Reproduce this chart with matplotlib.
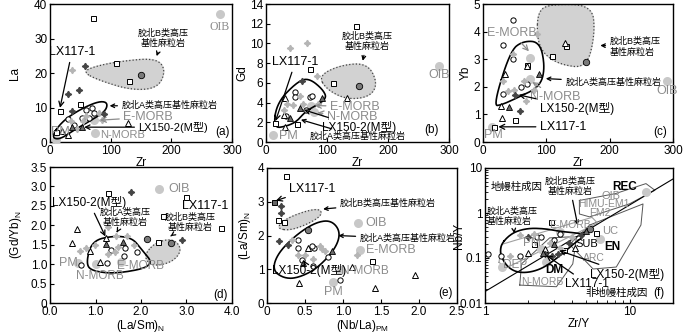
import numpy as np
import matplotlib
matplotlib.use('Agg')
import matplotlib.pyplot as plt

# fontes: latim + CJK
plt.rcParams['font.family'] = ['Liberation Sans', 'Noto Sans CJK SC']
plt.rcParams['mathtext.fontset'] = 'custom'
plt.rcParams['mathtext.rm'] = 'Liberation Sans'
plt.rcParams['mathtext.it'] = 'Liberation Sans'

GRAY_TXT = '#8c8c8c'

# ---------------- dados (a) La vs Zr ----------------
a_sq_x = [71, 108, 131, 16, 49, 10]; a_sq_y = [36, 23, 17.7, 9, 11, 3]
a_ci_x = [30, 52, 70, 73, 64, 40, 60]; a_ci_y = [6.8, 7, 10, 8.5, 7, 5, 9.2]
a_tr_x = [129, 30, 20]; a_tr_y = [5.5, 2, 3.2]
a_dd_x = [58, 30, 48, 37, 89]; a_dd_y = [22, 14, 15, 9, 8]
a_ld_x = [37, 60, 80, 45, 85, 35, 55]; a_ld_y = [21, 7.5, 8.5, 3.8, 6.5, 6, 6]
a_dc_x = [150]; a_dc_y = [19.4]
a_dt_x = [36, 53]; a_dt_y = [4.3, 4.3]
a_ref_x = [10, 74, 73, 280]; a_ref_y = [0.65, 2.5, 6.3, 37]
a_B_x = [54, 79, 134, 178, 191, 175, 120, 75]; a_B_y = [20.3, 18, 15, 15.6, 20.9, 24.3, 23.5, 22]
a_A_x = [2, 20, 50, 80, 95, 92, 70, 40, 15]; a_A_y = [1.5, 6, 9.5, 11.8, 11.5, 9, 6.5, 3.5, 0.6]

# ---------------- dados (b) Gd vs Zr ----------------
b_sq_x = [148, 72, 110, 15, 51]; b_sq_y = [11.8, 7.4, 6.0, 1.9, 1.8]
b_ci_x = [48, 48, 72, 33, 66, 75]; b_ci_y = [5.1, 4.6, 4.6, 2.6, 3.2, 4.7]
b_tr_x = [132, 31, 31, 29]; b_tr_y = [4.5, 1.5, 4.5, 2.7]
b_dd_x = [59]; b_dd_y = [6.2]
b_ld_x = [40, 67, 84, 35, 45, 60, 85, 30, 55]; b_ld_y = [9.5, 10, 6.7, 3.9, 3.8, 3.9, 3.9, 3.2, 4.7]
b_dc_x = [152]; b_dc_y = [5.7]
b_dt_x = [91, 56, 40]; b_dt_y = [4.5, 3.4, 2.4]
b_ref_x = [11, 78, 73, 283]; b_ref_y = [0.7, 3.0, 3.7, 7.7]
b_B_x = [86, 100, 133, 171, 183, 166, 122]; b_B_y = [6.7, 5.3, 4.3, 4.6, 6.0, 8.0, 7.8]
b_A_x = [12, 18, 51, 70, 94, 100, 66, 51, 34]; b_A_y = [1.4, 4.0, 6.1, 6.5, 5.3, 4.3, 3.2, 2.1, 1.6]

# ---------------- dados (c) Yb vs Zr ----------------
c_sq_x = [109, 131, 17, 51, 70]; c_sq_y = [3.12, 3.48, 0.55, 0.8, 2.8]
c_ci_x = [47, 32, 47, 70, 31, 60]; c_ci_y = [4.42, 3.5, 3.0, 2.1, 1.75, 2.0]
c_tr_x = [130, 35, 30, 29, 70]; c_tr_y = [3.58, 2.45, 0.87, 1.3, 2.75]
c_dd_x = [58, 50]; c_dd_y = [1.13, 1.7]
c_ld_x = [47, 85, 31, 49, 68, 64, 40, 80]; c_ld_y = [3.2, 3.9, 2.2, 1.9, 1.5, 2.2, 1.85, 1.9]
c_dc_x = [163]; c_dc_y = [2.9]
c_dt_x = [89, 41]; c_dt_y = [2.45, 1.27]
c_ref_x = [14, 74, 74, 290]; c_ref_y = [0.53, 2.3, 3.05, 2.2]
c_B_x = [85, 87, 110, 172, 177, 164, 122, 95]; c_B_y = [3.8, 4.78, 5.0, 4.96, 3.95, 2.68, 2.8, 3.2]
c_A_x = [16, 43, 63, 90, 98, 90, 54, 30]; c_A_y = [1.3, 3.3, 3.66, 3.63, 2.7, 2.0, 1.6, 1.35]

# ---------------- dados (d) (Gd/Yb)N vs (La/Sm)N ----------------
d_sq_x = [1.27, 3.0, 2.48, 3.76, 2.38]; d_sq_y = [2.83, 2.73, 2.25, 1.93, 1.58]
d_ci_x = [1.34, 1.63, 1.92, 1.25, 0.68, 1.65]; d_ci_y = [1.37, 1.2, 1.3, 1.02, 0.98, 1.42]
d_tr_x = [0.6, 0.48, 0.88, 1.1, 1.23]; d_tr_y = [1.9, 1.55, 1.33, 1.05, 1.66]
d_dd_x = [1.77, 2.9]; d_dd_y = [2.85, 1.63]
d_ld_x = [1.28, 0.65, 0.8, 0.99, 1.45, 1.7, 1.27, 1.43, 1.5, 1.85]
d_ld_y = [1.95, 1.35, 1.42, 1.48, 1.73, 1.72, 1.25, 1.32, 1.45, 1.5]
d_dc_x = [2.14, 2.65]; d_dc_y = [1.65, 1.55]
d_dt_x = [1.23, 1.6]; d_dt_y = [1.52, 1.56]
d_ref_x = [0.61, 1.0, 1.55, 2.4]; d_ref_y = [1.03, 1.01, 1.05, 2.93]
d_B_x = [2.09, 2.35, 2.72, 2.9, 2.72, 2.35, 2.13]; d_B_y = [1.28, 1.58, 1.65, 1.38, 1.08, 0.95, 1.05]
d_A_x = [0.79, 0.92, 1.39, 1.8, 2.0, 2.31, 1.47, 0.92]; d_A_y = [1.02, 1.6, 1.73, 1.68, 1.4, 0.95, 0.75, 0.82]

# ---------------- dados (e) (La/Sm)N vs (Nb/La)PM ----------------
e_sq_x = [0.25, 0.15, 0.23, 1.38]; e_sq_y = [3.77, 2.46, 2.4, 1.25]
e_gsq_x = [0.09]; e_gsq_y = [2.98]
e_ci_x = [0.41, 0.41, 0.46, 0.62, 0.59, 0.80, 0.96, 0.6]; e_ci_y = [1.88, 1.62, 1.28, 1.62, 1.68, 1.36, 0.67, 1.1]
e_tr_x = [0.42, 1.12, 1.42, 1.95, 0.54]; e_tr_y = [0.58, 1.07, 0.43, 0.84, 1.62]
e_dd_x = [0.19, 0.18, 0.16, 0.28]; e_dd_y = [2.87, 2.67, 1.83, 1.71]
e_ld_x = [0.33, 0.41, 0.5, 0.70, 0.72, 0.76, 1.18, 0.6]; e_ld_y = [1.86, 1.42, 1.42, 1.68, 1.6, 1.55, 1.42, 1.3]
e_dc_x = [0.54]; e_dc_y = [2.15]
e_dt_x = [0.85, 0.48]; e_dt_y = [1.54, 1.2]
e_ref_x = [0.87, 0.96, 1.22, 1.2]; e_ref_y = [0.61, 0.99, 1.57, 2.38]
e_B_x = [0.15, 0.3, 0.55, 0.72, 0.7, 0.55, 0.3, 0.17]; e_B_y = [2.2, 2.15, 2.35, 2.6, 2.78, 2.75, 2.55, 2.35]
e_A_x = [0.07, 0.2, 0.38, 0.65, 0.9, 0.97, 0.85, 0.65, 0.4, 0.15]
e_A_y = [1.0, 0.75, 0.72, 1.0, 1.6, 2.1, 2.45, 2.4, 2.05, 1.5]

# ---------------- dados (f) Nb/Y vs Zr/Y ----------------
f_sq_x = [2.88, 5.9, 2.2, 3.5]; f_sq_y = [0.64, 0.36, 0.2, 0.15]
f_ci_x = [1.05, 1.3, 1.75, 2.3, 2.45, 3.0, 3.3]; f_ci_y = [0.12, 0.11, 0.11, 0.3, 0.3, 0.25, 0.35]
f_tr_x = [1.98, 2.6, 4.2]; f_tr_y = [0.13, 0.16, 0.17]
f_dd_x = [2.0, 2.6, 2.9, 3.2, 3.8, 4.6]; f_dd_y = [0.3, 0.12, 0.11, 0.12, 0.22, 0.33]
f_ld_x = [1.5, 1.74, 2.2, 2.8, 3.3, 4.0]; f_ld_y = [0.11, 0.33, 0.35, 0.22, 0.17, 0.3]
f_dc_x = [5.3]; f_dc_y = [0.45]
f_dt_x = [2.5, 3.0, 5.0]; f_dt_y = [0.13, 0.2, 0.4]
f_ref_x = [2.46, 2.64, 3.32, 13.0, 6.2, 1.32]; f_ref_y = [0.157, 0.083, 0.38, 3.0, 0.26, 0.063]
f_A_x = [1.24, 1.5, 1.94, 2.6, 3.29, 4.3, 5.03, 4.2, 3.29, 2.4, 1.7, 1.37]
f_A_y = [0.17, 0.35, 0.46, 0.45, 0.39, 0.36, 0.33, 0.22, 0.11, 0.053, 0.045, 0.07]
f_oib_x = [4.5, 8.0, 13, 15, 10, 5.3, 4.5]; f_oib_y = [1.9, 2.7, 4.5, 3.2, 1.6, 0.82, 0.95]
f_arc_x = [5.3, 12.4, 12.0, 8.1, 5.6, 3.85]; f_arc_y = [0.54, 1.59, 0.54, 0.063, 0.057, 0.2]
f_nm_x = [1.74, 3.12, 4.05, 4.3, 2.8, 1.79]; f_nm_y = [0.025, 0.023, 0.074, 0.3, 0.28, 0.074]
f_band_x = [1.25, 1.3, 5.5, 6.0, 1.4]; f_band_y = [0.08, 0.2, 0.8, 0.6, 0.06]
f_line_x = [1, 20]; f_line_y = [0.018, 5.7]


# estilos dos grupos de amostras
estilos = {
    'sq': dict(marker='s', mfc='white', mec='k', ms=3.6, mew=0.7),
    'gsq': dict(marker='s', mfc='#666666', mec='k', ms=3.6, mew=0.7),
    'ci': dict(marker='o', mfc='white', mec='k', ms=3.8, mew=0.7),
    'tr': dict(marker='^', mfc='white', mec='k', ms=4.2, mew=0.7),
    'dd': dict(marker=(4, 1, 0), mfc='#454545', mec='#454545', ms=4.6),
    'ld': dict(marker=(4, 1, 0), mfc='#b5b5b5', mec='#b5b5b5', ms=4.6),
    'dc': dict(marker='o', mfc='#7a7a7a', mec='k', ms=4.6, mew=0.6),
    'dt': dict(marker='^', mfc='#6a6a6a', mec='k', ms=4.2, mew=0.6),
}


def suavizar(xs, ys, log=False, n=4):
    # suaviza um contorno fechado (Chaikin)
    p = np.column_stack([xs, ys]).astype(float)
    if log:
        p = np.log10(p)
    for _ in range(n):
        q = 0.75 * p + 0.25 * np.roll(p, -1, 0)
        r = 0.25 * p + 0.75 * np.roll(p, -1, 0)
        p = np.empty((2 * len(q), 2)); p[0::2] = q; p[1::2] = r
    p = np.vstack([p, p[:1]])
    if log:
        p = 10 ** p
    return p[:, 0], p[:, 1]


def campos(ax, bx, by, axx, ayy, log=False):
    x, y = suavizar(bx, by, log)
    ax.fill(x, y, color='#d2d2d2', zorder=1)
    ax.plot(x, y, ls=':', color='#444444', lw=0.9, zorder=2)
    x, y = suavizar(axx, ayy, log)
    ax.plot(x, y, color='k', lw=1.2, zorder=4)


def pontos(ax, grupos, ref):
    ax.plot(ref[0], ref[1], 'o', color='#c8c8c8', ms=6.5, mec='none', zorder=3)
    for k, (xs, ys) in grupos.items():
        ax.plot(xs, ys, ls='none', zorder=5, **estilos[k])


def anot(ax, txt, xy, xytext, cor='k', fs=8.5, ha='left', **kw):
    ax.annotate(txt, xy=xy, xytext=xytext, color=cor, fontsize=fs, ha=ha, va='center',
                arrowprops=dict(arrowstyle='->', color=cor, lw=0.9, shrinkA=1, shrinkB=1), zorder=6, **kw)


def txt(ax, x, y, s, cor='k', fs=8.5, ha='center', **kw):
    ax.text(x, y, s, color=cor, fontsize=fs, ha=ha, va='center', zorder=6, **kw)


def eixo(ax, xl, yl, ypad=1):
    ax.set_xlabel(xl, fontsize=8.5, labelpad=0)
    ax.set_ylabel(yl, fontsize=8.5, labelpad=ypad)
    ax.tick_params(direction='in', labelsize=8.5, length=3, width=0.8, pad=2)
    for s in ax.spines.values():
        s.set_linewidth(1.0)


fig = plt.figure(figsize=(7, 3.35), dpi=100)
axa = fig.add_axes([50/700, 193/335, 182/700, 138/335])
axb = fig.add_axes([266/700, 193/335, 183/700, 138/335])
axc = fig.add_axes([483/700, 193/335, 190/700, 138/335])
axd = fig.add_axes([50/700, 32/335, 182/700, 136/335])
axe = fig.add_axes([267/700, 32/335, 190/700, 135/335])
axf = fig.add_axes([485/700, 32/335, 188/700, 135/335])

cjk = 6.5  # tamanho dos rotulos chineses pequenos

# ---- (a)
campos(axa, a_B_x, a_B_y, a_A_x, a_A_y)
pontos(axa, {'sq': (a_sq_x, a_sq_y), 'ci': (a_ci_x, a_ci_y), 'tr': (a_tr_x, a_tr_y), 'ld': (a_ld_x, a_ld_y),
             'dd': (a_dd_x, a_dd_y), 'dc': (a_dc_x, a_dc_y), 'dt': (a_dt_x, a_dt_y)}, (a_ref_x, a_ref_y))
axa.set_xlim(0, 300); axa.set_ylim(0, 40)
axa.set_xticks([0, 100, 200, 300]); axa.set_yticks([0, 10, 20, 30, 40])
eixo(axa, 'Zr', 'La', ypad=9)
anot(axa, 'LX117-1', (16, 9.5), (36, 26), ha='center', fs=9)
anot(axa, '胶北B类高压\n基性麻粒岩', (175, 24.5), (186, 30), ha='center', fs=cjk)
anot(axa, '胶北A类高压基性麻粒岩', (96, 10.5), (118, 10.5), fs=cjk)
anot(axa, 'E-MORB', (80, 6.3), (121, 7.2), cor=GRAY_TXT, fs=9)
txt(axa, 82, 2.0, 'N-MORB', cor=GRAY_TXT, fs=8, ha='left')
anot(axa, 'LX150-2(M型)', (54, 4.3), (146, 4.3), fs=8)
txt(axa, 2, 3.0, 'PM', cor=GRAY_TXT, fs=9, ha='left')
txt(axa, 280, 33.2, 'OIB', cor=GRAY_TXT, fs=8.5, family='Liberation Serif')
txt(axa, 284, 3.0, '(a)', fs=8.5)

# ---- (b)
campos(axb, b_B_x, b_B_y, b_A_x, b_A_y)
pontos(axb, {'sq': (b_sq_x, b_sq_y), 'ci': (b_ci_x, b_ci_y), 'tr': (b_tr_x, b_tr_y), 'ld': (b_ld_x, b_ld_y),
             'dd': (b_dd_x, b_dd_y), 'dc': (b_dc_x, b_dc_y), 'dt': (b_dt_x, b_dt_y)}, (b_ref_x, b_ref_y))
axb.set_xlim(0, 300); axb.set_ylim(0, 14)
axb.set_xticks([0, 100, 200, 300]); axb.set_yticks(range(0, 15, 2))
eixo(axb, 'Zr', 'Gd')
anot(axb, 'LX117-1', (15, 2.0), (48, 8.1), ha='center', fs=9)
anot(axb, '胶北B类高压\n基性麻粒岩', (158, 8.1), (166, 10.2), ha='center', fs=cjk)
anot(axb, 'E-MORB', (78, 3.7), (105, 3.6), cor=GRAY_TXT, fs=9)
anot(axb, 'N-MORB', (82, 3.0), (100, 2.5), cor=GRAY_TXT, fs=9)
anot(axb, 'LX150-2(M型)', (60, 3.3), (92, 1.5), fs=8.5)
anot(axb, '胶北A类高压基性麻粒岩', (55, 2.3), (72, 0.55), fs=cjk)
txt(axb, 22, 0.6, 'PM', cor=GRAY_TXT, fs=9, ha='left')
txt(axb, 283, 6.8, 'OIB', cor=GRAY_TXT, fs=9)
txt(axb, 272, 1.2, '(b)', fs=8.5)

# ---- (c)
campos(axc, c_B_x, c_B_y, c_A_x, c_A_y)
pontos(axc, {'sq': (c_sq_x, c_sq_y), 'ci': (c_ci_x, c_ci_y), 'tr': (c_tr_x, c_tr_y), 'ld': (c_ld_x, c_ld_y),
             'dd': (c_dd_x, c_dd_y), 'dc': (c_dc_x, c_dc_y), 'dt': (c_dt_x, c_dt_y)}, (c_ref_x, c_ref_y))
axc.set_xlim(0, 300); axc.set_ylim(0, 5)
axc.set_xticks([0, 100, 200, 300]); axc.set_yticks(range(0, 6))
eixo(axc, 'Zr', 'Yb')
anot(axc, 'E-MORB', (74, 3.25), (46, 3.95), cor=GRAY_TXT, ha='center', fs=9)
anot(axc, '胶北B类高压\n基性麻粒岩', (183, 3.5), (200, 3.45), fs=cjk)
anot(axc, '胶北A类高压基性麻粒岩', (97, 2.3), (130, 2.17), fs=cjk)
anot(axc, 'N-MORB', (76, 2.2), (114, 1.63), cor=GRAY_TXT, ha='center', fs=9)
anot(axc, 'LX150-2(M型)', (54, 1.72), (90, 1.23), fs=8.5)
anot(axc, 'LX117-1', (22, 0.55), (90, 0.55), fs=9)
txt(axc, 17, 0.25, 'PM', cor=GRAY_TXT, fs=9)
txt(axc, 290, 1.85, 'OIB', cor=GRAY_TXT, fs=9)
txt(axc, 280, 0.35, '(c)', fs=8.5)

# ---- (d)
campos(axd, d_B_x, d_B_y, d_A_x, d_A_y)
pontos(axd, {'sq': (d_sq_x, d_sq_y), 'ci': (d_ci_x, d_ci_y), 'tr': (d_tr_x, d_tr_y), 'ld': (d_ld_x, d_ld_y),
             'dd': (d_dd_x, d_dd_y), 'dc': (d_dc_x, d_dc_y), 'dt': (d_dt_x, d_dt_y)}, (d_ref_x, d_ref_y))
axd.set_xlim(0, 4); axd.set_ylim(0, 3.5)
axd.set_xticks([0, 1, 2, 3, 4]); axd.set_xticklabels(['0.0', '1.0', '2.0', '3.0', '4.0'])
axd.set_yticks(np.arange(0, 3.6, 0.5)); axd.set_yticklabels(['0', '0.5', '1.0', '1.5', '2.0', '2.5', '3.0', '3.5'])
eixo(axd, '(La/Sm)$_\\mathrm{N}$', '(Gd/Yb)$_\\mathrm{N}$', ypad=5)
anot(axd, 'LX150-2(M型)', (1.23, 1.68), (0.05, 2.58), fs=8.5)
anot(axd, '胶北A类高压\n基性麻粒岩', (1.45, 1.78), (1.65, 2.2), ha='center', fs=cjk)
txt(axd, 3.4, 2.5, 'LX117-1', fs=9)
anot(axd, '胶北B类高压\n基性麻粒岩', (2.65, 1.72), (3.08, 2.07), ha='center', fs=cjk)
txt(axd, 2.6, 2.93, 'OIB', cor=GRAY_TXT, fs=9, ha='left')
txt(axd, 0.2, 1.02, 'PM', cor=GRAY_TXT, fs=9, ha='left')
txt(axd, 1.1, 0.7, 'N-MORB', cor=GRAY_TXT, fs=8.5)
txt(axd, 1.98, 0.95, 'E-MORB', cor=GRAY_TXT, fs=8.5)
txt(axd, 3.75, 0.2, '(d)', fs=8.5)

# ---- (e)
campos(axe, e_B_x, e_B_y, e_A_x, e_A_y)
pontos(axe, {'sq': (e_sq_x, e_sq_y), 'gsq': (e_gsq_x, e_gsq_y), 'ci': (e_ci_x, e_ci_y), 'tr': (e_tr_x, e_tr_y),
             'ld': (e_ld_x, e_ld_y), 'dd': (e_dd_x, e_dd_y), 'dc': (e_dc_x, e_dc_y), 'dt': (e_dt_x, e_dt_y)},
       (e_ref_x, e_ref_y))
axe.set_xlim(0, 2.5); axe.set_ylim(0, 4)
axe.set_xticks([0, 0.5, 1.0, 1.5, 2.0, 2.5]); axe.set_xticklabels(['0', '0.5', '1.0', '1.5', '2.0', '2.5'])
axe.set_yticks(range(0, 5))
eixo(axe, '(Nb/La)$_\\mathrm{PM}$', '(La/Sm)$_\\mathrm{N}$', ypad=3)
anot(axe, 'LX117-1', (0.1, 3.02), (0.6, 3.39), ha='center', fs=9)
anot(axe, '胶北B类高压基性麻粒岩', (0.72, 2.78), (0.96, 2.96), fs=cjk)
anot(axe, '胶北A类高压基性麻粒岩', (0.92, 2.0), (1.22, 1.91), fs=cjk)
txt(axe, 1.3, 2.38, 'OIB', cor=GRAY_TXT, fs=9, ha='left')
txt(axe, 1.3, 1.57, 'E-MORB', cor=GRAY_TXT, fs=9, ha='left')
txt(axe, 0.98, 0.95, 'N-MORB', cor=GRAY_TXT, fs=8.5, ha='left')
anot(axe, 'LX150-2(M型)', (0.48, 1.26), (0.07, 0.95), fs=8.5)
txt(axe, 0.87, 0.32, 'PM', cor=GRAY_TXT, fs=9)
txt(axe, 2.35, 0.3, '(e)', fs=8.5)

# ---- (f)
axf.set_xscale('log'); axf.set_yscale('log')
for px, py in [(f_oib_x, f_oib_y), (f_arc_x, f_arc_y), (f_nm_x, f_nm_y)]:
    axf.plot(px + px[:1], py + py[:1], color='#555555', lw=0.7, zorder=2)
axf.plot(f_band_x + f_band_x[:1], f_band_y + f_band_y[:1], color='#a0a0a0', lw=0.8, zorder=2)
axf.plot(f_line_x, f_line_y, color='k', lw=0.8, zorder=2)
x, y = suavizar(f_A_x, f_A_y, log=True)
axf.plot(x, y, color='k', lw=1.2, zorder=4)
pontos(axf, {'sq': (f_sq_x, f_sq_y), 'ci': (f_ci_x, f_ci_y), 'tr': (f_tr_x, f_tr_y), 'ld': (f_ld_x, f_ld_y),
             'dd': (f_dd_x, f_dd_y), 'dc': (f_dc_x, f_dc_y), 'dt': (f_dt_x, f_dt_y)}, (f_ref_x, f_ref_y))
axf.set_xlim(1, 20); axf.set_ylim(0.01, 10)
axf.set_xticks([1, 10]); axf.set_xticklabels(['1', '10'])
axf.set_yticks([0.01, 0.1, 1, 10]); axf.set_yticklabels(['0.01', '0.1', '1', '10'])
eixo(axf, 'Zr/Y', 'Nb/Y', ypad=-4)
axf.tick_params(which='minor', direction='in', length=2)
txt(axf, 1.66, 3.9, '地幔柱成因', fs=7.5)
anot(axf, '胶北B类高压\n基性麻粒岩', (4.4, 0.5), (3.86, 3.9), ha='center', fs=cjk)
txt(axf, 9.3, 3.7, 'REC', fs=8.5, weight='bold')
txt(axf, 7.4, 2.4, 'OIB', cor=GRAY_TXT, fs=8)
txt(axf, 6.7, 1.6, 'HIMU-EM1', cor=GRAY_TXT, fs=7.5)
txt(axf, 6.2, 1.0, 'EM2', cor=GRAY_TXT, fs=7.5)
anot(axf, '胶北A类高压\n基性麻粒岩', (1.6, 0.33), (1.03, 0.85), fs=cjk)
txt(axf, 3.86, 0.53, 'E-MORB', cor=GRAY_TXT, fs=7.5)
txt(axf, 7.3, 0.4, 'UC', cor=GRAY_TXT, fs=8)
txt(axf, 2.1, 0.22, 'PM', cor=GRAY_TXT, fs=8.5)
txt(axf, 5.1, 0.2, 'SUB', fs=8)
txt(axf, 7.6, 0.18, 'EN', fs=8.5, weight='bold')
txt(axf, 5.7, 0.1, 'ARC', cor=GRAY_TXT, fs=7.5)
txt(axf, 1.61, 0.069, 'DEP', cor=GRAY_TXT, fs=8.5)
txt(axf, 3.04, 0.054, 'DM', fs=8.5, weight='bold')
txt(axf, 2.5, 0.03, 'N-MORB', cor=GRAY_TXT, fs=7.5)
anot(axf, 'LX150-2(M型)', (3.2, 0.15), (5.3, 0.044), fs=8.5)
anot(axf, 'LX117-1', (2.6, 0.12), (3.6, 0.027), fs=8.5)
txt(axf, 8.1, 0.017, '非地幔柱成因', fs=7.5)
txt(axf, 16, 0.017, '(f)', fs=8.5)

fig.savefig('out.png', dpi=100)
